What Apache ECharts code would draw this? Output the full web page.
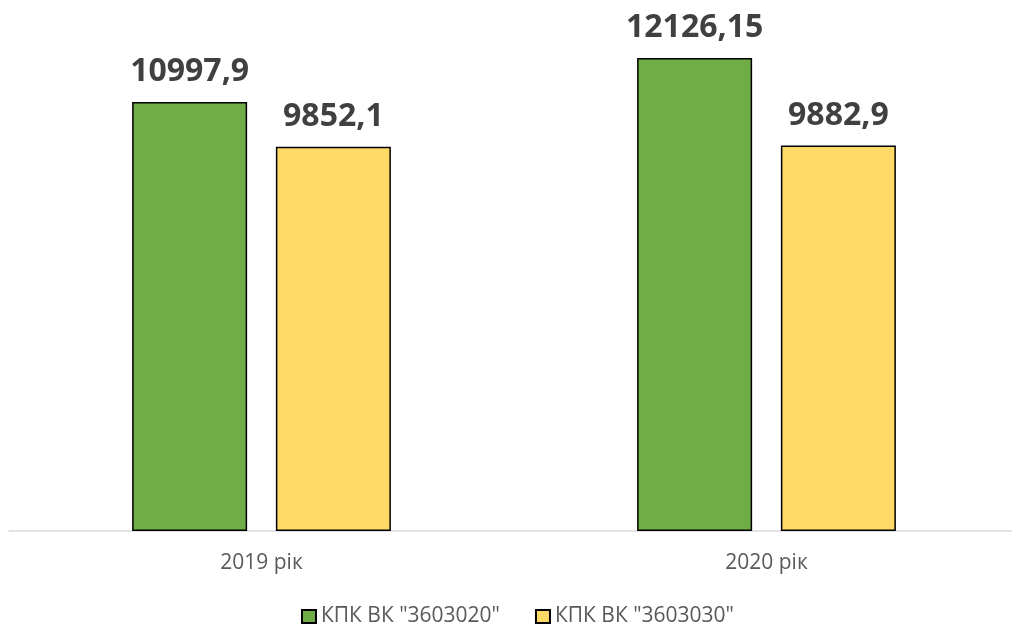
<!DOCTYPE html>
<html>
<head>
<meta charset="utf-8">
<script src="https://cdn.jsdelivr.net/npm/echarts@6/dist/echarts.min.js"></script>
<style>
  html, body { margin: 0; padding: 0; background: #fff; }
  #main { width: 1012px; height: 624px; }
</style>
</head>
<body>
<div id="main"></div>
<script>
// дані
var years = ['2019 рік', '2020 рік'];
var seriesNames = ['КПК ВК "3603020"', 'КПК ВК "3603030"'];
var kpk3603020 = [10997.9, 12126.15];
var kpk3603030 = [9852.1, 9882.9];

var chart = echarts.init(document.getElementById('main'));

function fmt(p) {
    return String(p.value).replace('.', ',');
}

var labelStyle = {
    show: true,
    position: 'top',
    distance: 14,
    fontFamily: 'Open Sans',
    fontWeight: 'bold',
    fontSize: 32,
    color: '#404040',
    formatter: fmt
};

var option = {
    animation: false,
    grid: { left: 9, width: 1010, top: 24, bottom: 93, outerBoundsMode: 'none', containLabel: false },
    legend: {
        bottom: -8,
        left: 296,
        icon: 'rect',
        itemWidth: 14,
        itemHeight: 13,
        itemGap: 35,
        textStyle: { fontFamily: 'Open Sans', fontSize: 21, color: '#595959' },
        data: seriesNames
    },
    xAxis: {
        type: 'category',
        data: years,
        axisTick: { show: false },
        axisLine: { lineStyle: { color: '#d9d9d9', width: 1.5 } },
        axisLabel: { fontFamily: 'Open Sans', fontSize: 21, color: '#595959', margin: 22 }
    },
    yAxis: {
        type: 'value',
        min: 0,
        max: 13000,
        show: false,
        splitLine: { show: false }
    },
    series: [{
        name: seriesNames[0],
        type: 'bar',
        data: kpk3603020,
        barWidth: 115,
        barGap: '25%',
        itemStyle: { color: '#70ad47', borderColor: '#000', borderWidth: 1.5 },
        label: labelStyle
    }, {
        name: seriesNames[1],
        type: 'bar',
        data: kpk3603030,
        barWidth: 115,
        itemStyle: { color: '#ffd966', borderColor: '#000', borderWidth: 1.5 },
        label: labelStyle
    }]
};
chart.setOption(option);
</script>
</body>
</html>
